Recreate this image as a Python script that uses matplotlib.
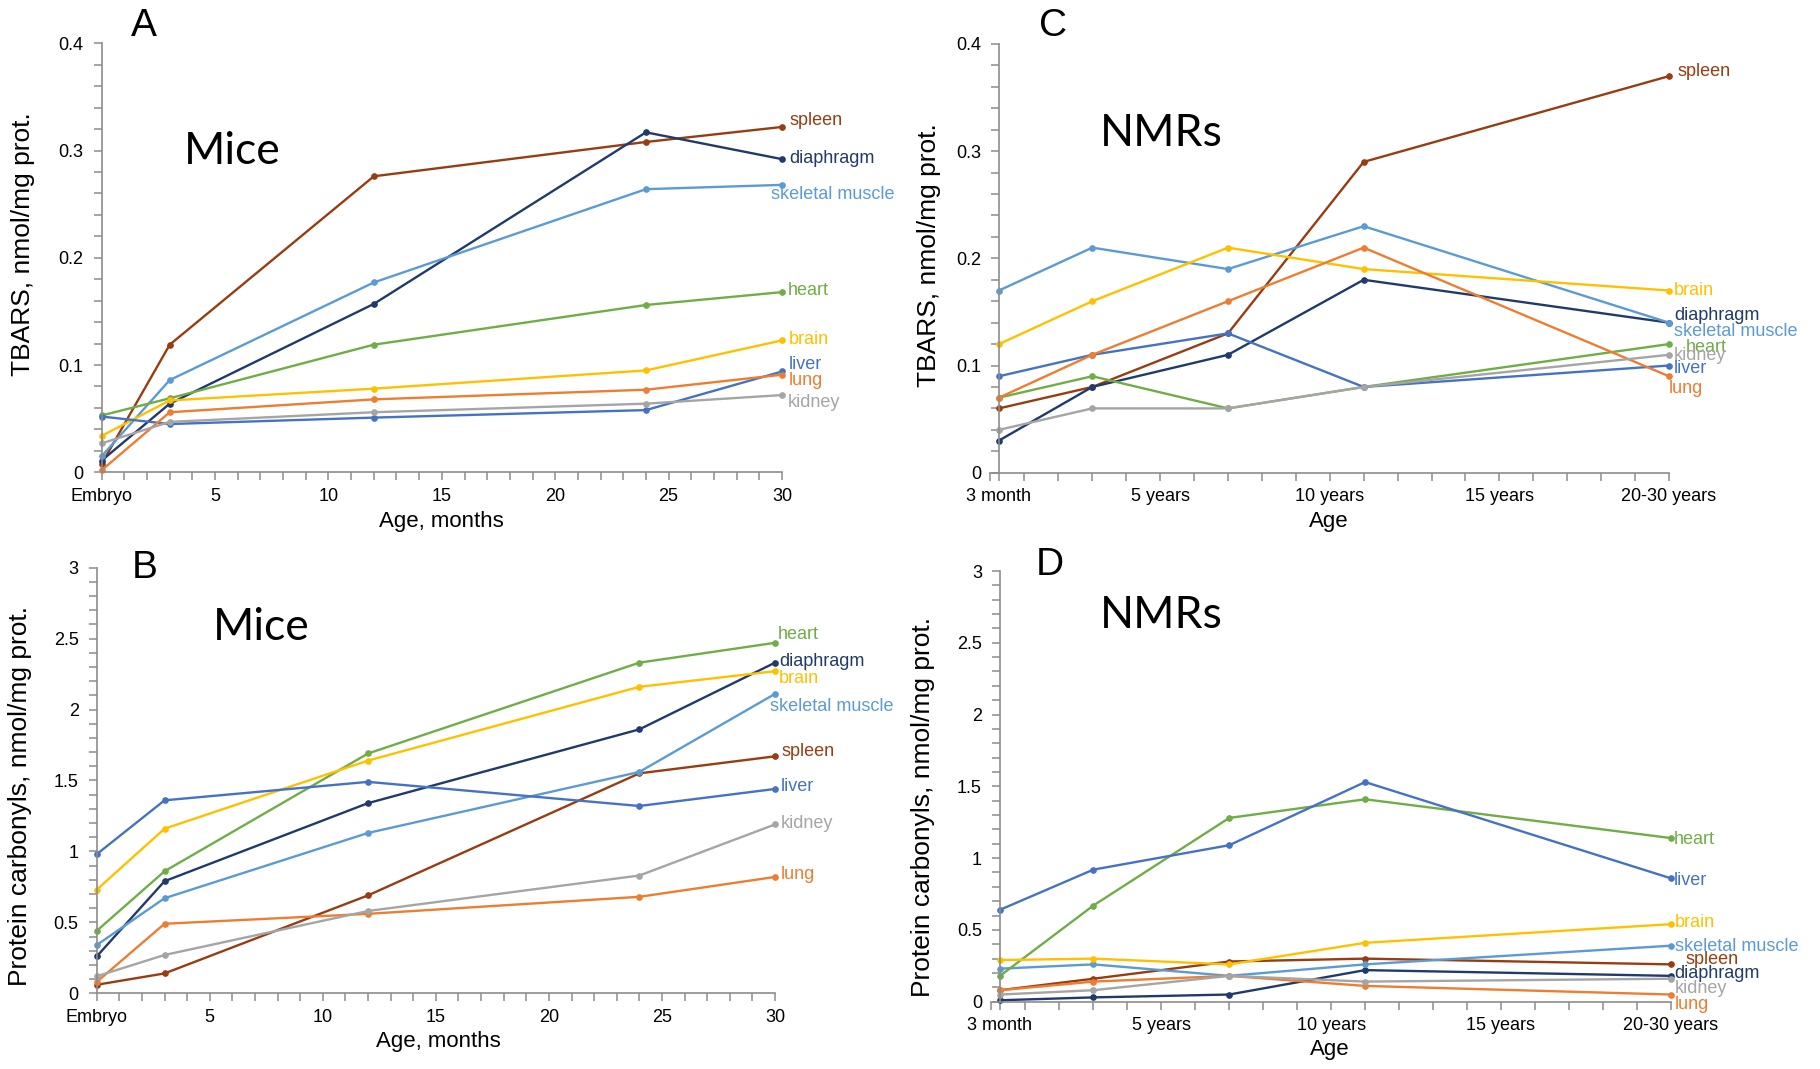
import matplotlib.pyplot as plt
from matplotlib.ticker import MultipleLocator

# ---- data ----
tissues = ['spleen', 'diaphragm', 'skeletal muscle', 'heart', 'brain', 'liver', 'lung', 'kidney']

mice_age = [0, 3, 12, 24, 30]
mice_ticks = [0, 5, 10, 15, 20, 25, 30]
mice_tick_labels = ['Embryo', '5', '10', '15', '20', '25', '30']

nmr_age = [0.25, 3, 7, 11, 20]
nmr_ticks = [0.25, 5, 10, 15, 20]
nmr_tick_labels = ['3 month', '5 years', '10 years', '15 years', '20-30 years']

tbars_mice = {
    'spleen':          [0.008, 0.119, 0.276, 0.308, 0.322],
    'diaphragm':       [0.011, 0.064, 0.157, 0.317, 0.292],
    'skeletal muscle': [0.015, 0.086, 0.177, 0.264, 0.268],
    'heart':           [0.053, 0.069, 0.119, 0.156, 0.168],
    'brain':           [0.034, 0.067, 0.078, 0.095, 0.123],
    'liver':           [0.052, 0.045, 0.051, 0.058, 0.094],
    'lung':            [0.002, 0.056, 0.068, 0.077, 0.091],
    'kidney':          [0.027, 0.047, 0.056, 0.064, 0.072],
}

carbonyl_mice = {
    'spleen':          [0.06, 0.14, 0.69, 1.55, 1.67],
    'diaphragm':       [0.26, 0.79, 1.34, 1.86, 2.33],
    'skeletal muscle': [0.34, 0.67, 1.13, 1.56, 2.11],
    'heart':           [0.44, 0.86, 1.69, 2.33, 2.47],
    'brain':           [0.73, 1.16, 1.64, 2.16, 2.27],
    'liver':           [0.98, 1.36, 1.49, 1.32, 1.44],
    'lung':            [0.08, 0.49, 0.56, 0.68, 0.82],
    'kidney':          [0.12, 0.27, 0.58, 0.83, 1.19],
}

tbars_nmr = {
    'spleen':          [0.06, 0.08, 0.13, 0.29, 0.37],
    'diaphragm':       [0.03, 0.08, 0.11, 0.18, 0.14],
    'skeletal muscle': [0.17, 0.21, 0.19, 0.23, 0.14],
    'heart':           [0.07, 0.09, 0.06, 0.08, 0.12],
    'brain':           [0.12, 0.16, 0.21, 0.19, 0.17],
    'liver':           [0.09, 0.11, 0.13, 0.08, 0.10],
    'lung':            [0.07, 0.11, 0.16, 0.21, 0.09],
    'kidney':          [0.04, 0.06, 0.06, 0.08, 0.11],
}

carbonyl_nmr = {
    'spleen':          [0.08, 0.16, 0.28, 0.30, 0.26],
    'diaphragm':       [0.01, 0.03, 0.05, 0.22, 0.18],
    'skeletal muscle': [0.23, 0.26, 0.18, 0.26, 0.39],
    'heart':           [0.18, 0.67, 1.28, 1.41, 1.14],
    'brain':           [0.29, 0.30, 0.26, 0.41, 0.54],
    'liver':           [0.64, 0.92, 1.09, 1.53, 0.86],
    'lung':            [0.08, 0.14, 0.18, 0.11, 0.05],
    'kidney':          [0.05, 0.08, 0.18, 0.14, 0.16],
}

# ---- styles ----
colors = {
    'spleen': '#983c12', 'diaphragm': '#203a6c', 'skeletal muscle': '#5b9bd5',
    'heart': '#70ad47', 'brain': '#ffc000', 'liver': '#4472c4',
    'lung': '#ed7d31', 'kidney': '#a5a5a5',
}

# label offsets in pixels from the last point
offs_a = {'spleen': (7, 6), 'diaphragm': (7, 1), 'skeletal muscle': (-11, -10), 'heart': (6, 2),
          'brain': (7, 1), 'liver': (7, 7), 'lung': (7, -6), 'kidney': (6, -7)}
offs_b = {'spleen': (6, 5), 'diaphragm': (4, 1), 'skeletal muscle': (-5, -13), 'heart': (3, 8),
          'brain': (4, -7), 'liver': (6, 2), 'lung': (6, 2), 'kidney': (6, 1)}
offs_c = {'spleen': (9, 5), 'diaphragm': (5, 7), 'skeletal muscle': (5, -9), 'heart': (17, -3),
          'brain': (5, 0), 'liver': (5, -3), 'lung': (0, -12), 'kidney': (5, -1)}
offs_d = {'spleen': (15, 5), 'diaphragm': (4, 2), 'skeletal muscle': (4, -1), 'heart': (3, -1),
          'brain': (4, 2), 'liver': (3, -2), 'lung': (4, -10), 'kidney': (4, -10)}

W, H = 1820, 1069
plt.rcParams['font.family'] = ['Liberation Sans', 'DejaVu Sans']
fig = plt.figure(figsize=(W / 100, H / 100), dpi=100)
AXC = '#8c8c8c'


def add_ax(left, right, top, bottom):
    return fig.add_axes([left / W, 1 - bottom / H, (right - left) / W, (bottom - top) / H])


def panel(ax, x, data, offs, xlim, ticks, labels, ymax, ymaj, ymin, yspine=None):
    for t in tissues:
        c = colors[t]
        ax.plot(x, data[t], color=c, lw=1.7, marker='o', ms=3.8, clip_on=False)
        ax.annotate(t, (x[-1], data[t][-1]), xytext=offs[t], textcoords='offset pixels',
                    ha='left', va='center', color=c, fontsize=13)
    ax.set_xlim(*xlim)
    ax.set_ylim(0, ymax)
    ax.set_xticks(ticks)
    ax.set_xticklabels(labels)
    ax.xaxis.set_minor_locator(MultipleLocator(1))
    ax.yaxis.set_major_locator(MultipleLocator(ymaj))
    ax.yaxis.set_minor_locator(MultipleLocator(ymin))
    ax.yaxis.set_major_formatter(lambda v, p: f'{v:g}')
    for s in ['top', 'right']:
        ax.spines[s].set_visible(False)
    for s in ['left', 'bottom']:
        ax.spines[s].set_color(AXC)
        ax.spines[s].set_linewidth(1.2)
    if yspine is not None:
        ax.spines['left'].set_position(('data', yspine))
    ax.tick_params(which='both', direction='out', length=6, color=AXC, width=1.1,
                   labelsize=13, labelcolor='black')
    ax.tick_params(axis='x', which='major', pad=5)
    ax.tick_params(axis='y', which='major', pad=7)
    ax.patch.set_alpha(0)


ax_a = add_ax(101.7, 782, 43.3, 472.3)
panel(ax_a, mice_age, tbars_mice, offs_a, (0, 30), mice_ticks, mice_tick_labels, 0.4, 0.1, 0.02)
ax_b = add_ax(96.7, 775, 567.6, 993.3)
panel(ax_b, mice_age, carbonyl_mice, offs_b, (0, 30), mice_ticks, mice_tick_labels, 3, 0.5, 0.1)
ax_c = add_ax(990.5, 1669, 44, 472.7)
panel(ax_c, nmr_age, tbars_nmr, offs_c, (0, 20), nmr_ticks, nmr_tick_labels, 0.4, 0.1, 0.02, yspine=0.25)
ax_d = add_ax(991.5, 1670.7, 571, 1001.7)
panel(ax_d, nmr_age, carbonyl_nmr, offs_d, (0, 20), nmr_ticks, nmr_tick_labels, 3, 0.5, 0.1, yspine=0.25)


def ftext(x, y, s, **kw):
    fig.text(x / W, 1 - y / H, s, ha='center', va='center', **kw)


# axis titles
ftext(441, 521, 'Age, months', fontsize=16)
ftext(1329, 521, 'Age', fontsize=16)
ftext(438, 1041, 'Age, months', fontsize=16)
ftext(1330, 1050, 'Age', fontsize=16)
ftext(23, 244, 'TBARS, nmol/mg prot.', fontsize=19, rotation=90)
ftext(929, 255, 'TBARS, nmol/mg prot.', fontsize=19, rotation=90)
ftext(20, 796, 'Protein carbonyls, nmol/mg prot.', fontsize=19, rotation=90)
ftext(923, 807, 'Protein carbonyls, nmol/mg prot.', fontsize=19, rotation=90)

# panel letters and species
for xy, s in [((144, 26), 'A'), ((1053, 26), 'C'), ((145, 568), 'B'), ((1050, 565), 'D')]:
    ftext(*xy, s, fontsize=28)
for xy, s in [((232, 151), 'Mice'), ((1161, 133), 'NMRs'), ((261, 627), 'Mice'), ((1161, 615), 'NMRs')]:
    ftext(*xy, s, fontsize=32, family=['Lato', 'DejaVu Sans'])

fig.savefig('out.png', dpi=100, facecolor='white')
